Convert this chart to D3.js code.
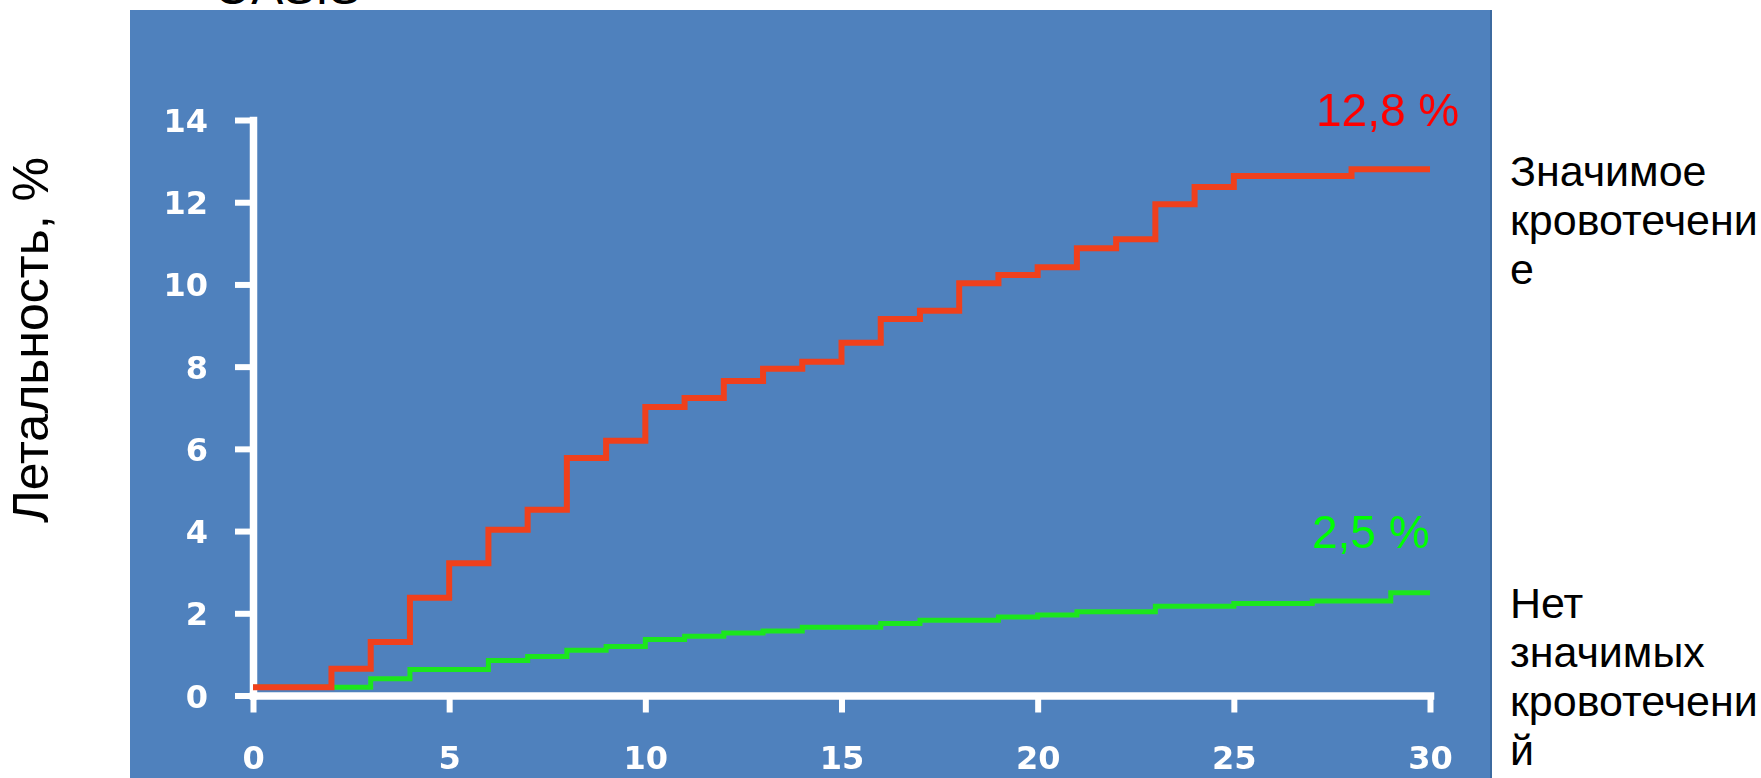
<!DOCTYPE html>
<html lang="ru">
<head>
<meta charset="utf-8">
<title>Летальность</title>
<script src="https://cdn.jsdelivr.net/npm/d3@7/dist/d3.min.js"></script>
<style>
  html, body { margin: 0; padding: 0; background: #ffffff; }
  svg { display: block; }
</style>
</head>
<body>
<svg id="chart" width="1761" height="778"></svg>
<script>
// Days since onset and cumulative mortality (%) for each group
const bleedDays = [0, 2, 3, 4, 5, 6, 7, 8, 9, 10, 11, 12, 13, 14, 15, 16, 17, 18, 19, 20, 21, 22, 23, 24, 25, 28, 30];
const bleedMortality = [0.2, 0.65, 1.3, 2.38, 3.22, 4.03, 4.52, 5.78, 6.2, 7.02, 7.24, 7.65, 7.95, 8.12, 8.58, 9.16, 9.36, 10.03, 10.23, 10.42, 10.88, 11.1, 11.95, 12.37, 12.64, 12.8, 12.8];

const noBleedDays = [0, 3, 4, 6, 7, 8, 9, 10, 11, 12, 13, 14, 16, 17, 19, 20, 21, 23, 25, 27, 29, 30];
const noBleedMortality = [0.2, 0.41, 0.63, 0.85, 0.95, 1.1, 1.19, 1.36, 1.44, 1.52, 1.57, 1.66, 1.75, 1.83, 1.91, 1.96, 2.04, 2.17, 2.24, 2.3, 2.5, 2.5];

const xTicks = [0, 5, 10, 15, 20, 25, 30];
const yTicks = [0, 2, 4, 6, 8, 10, 12, 14];

const titleText = "OASIS";
const yTitle = "Летальность, %";
const bleedLabel = ["Значимое", "кровотечени", "е"];
const noBleedLabel = ["Нет", "значимых", "кровотечени", "й"];

const svg = d3.select("#chart");
const sans = "'Liberation Sans', Arial, sans-serif";

// slide title, mostly hidden above the panel
svg.append("text")
  .attr("x", 214).attr("y", 4)
  .attr("font-family", sans)
  .attr("font-size", 48)
  .attr("fill", "#000")
  .text(titleText);

// blue chart panel
svg.append("rect")
  .attr("x", 130).attr("y", 10)
  .attr("width", 1361).attr("height", 768)
  .attr("fill", "#4f81bd");
svg.append("line")
  .attr("x1", 1491).attr("x2", 1491).attr("y1", 10).attr("y2", 778)
  .attr("stroke", "#3c6aa0").attr("stroke-width", 2);

const defs = svg.append("defs");
defs.append("filter").attr("id", "soft")
  .append("feGaussianBlur").attr("stdDeviation", 0.6);

const x = d3.scaleLinear().domain([0, 30]).range([253, 1430]);
const y = d3.scaleLinear().domain([0, 14]).range([695.5, 120]);

const plot = svg.append("g").attr("filter", "url(#soft)");

const tickFont = "'DejaVu Sans', Verdana, sans-serif";

// y axis
const gy = plot.append("g")
  .attr("transform", `translate(${x(0)},0)`)
  .call(d3.axisLeft(y).tickValues(yTicks).tickFormat(d3.format("d"))
    .tickSize(18).tickSizeOuter(0).tickPadding(27));

// x axis
const gx = plot.append("g")
  .attr("transform", `translate(0,${y(0)})`)
  .call(d3.axisBottom(x).tickValues(xTicks).tickFormat(d3.format("d"))
    .tickSize(17).tickSizeOuter(0).tickPadding(34));

[gx, gy].forEach(g => {
  g.select(".domain").attr("stroke", "#ffffff").attr("stroke-width", 7.5)
    .attr("stroke-linecap", "square");
  g.selectAll(".tick line").attr("stroke", "#ffffff").attr("stroke-width", 6);
  g.selectAll(".tick text")
    .attr("fill", "#ffffff")
    .attr("font-family", tickFont)
    .attr("font-weight", "bold")
    .attr("font-size", 32);
});
gy.selectAll(".tick text").attr("dy", "0.36em");
gx.selectAll(".tick text").attr("dy", "0.71em");

// step curves
const step = d3.line()
  .x(d => x(d[0]))
  .y(d => y(d[1]))
  .curve(d3.curveStepAfter);

const noBleed = d3.zip(noBleedDays, noBleedMortality);
const bleed = d3.zip(bleedDays, bleedMortality);

plot.append("path")
  .datum(noBleed)
  .attr("d", step)
  .attr("fill", "none")
  .attr("stroke", "#1fe61f")
  .attr("stroke-width", 5);

plot.append("path")
  .datum(bleed)
  .attr("d", step)
  .attr("fill", "none")
  .attr("stroke", "#f0401e")
  .attr("stroke-width", 6);

// end-point values
const pct = v => d3.format(".1f")(v).replace(".", ",") + " %";
svg.append("text")
  .attr("x", 1316).attr("y", 126)
  .attr("font-family", sans)
  .attr("font-size", 46)
  .attr("fill", "#ff0000")
  .text(pct(bleedMortality[bleedMortality.length - 1]));
svg.append("text")
  .attr("x", 1312).attr("y", 548)
  .attr("font-family", sans)
  .attr("font-size", 46)
  .attr("fill", "#00ff00")
  .text(pct(noBleedMortality[noBleedMortality.length - 1]));

// y title
svg.append("text")
  .attr("transform", "translate(48,340) rotate(-90)")
  .attr("text-anchor", "middle")
  .attr("font-family", sans)
  .attr("font-size", 50)
  .attr("fill", "#000")
  .text(yTitle);

// group labels to the right of the panel
function block(lines, y0) {
  const t = svg.append("text")
    .attr("font-family", sans)
    .attr("font-size", 43)
    .attr("fill", "#000");
  lines.forEach((s, i) => {
    t.append("tspan").attr("x", 1510).attr("y", y0 + i * 49).text(s);
  });
}
block(bleedLabel, 186);
block(noBleedLabel, 618);
</script>
</body>
</html>
